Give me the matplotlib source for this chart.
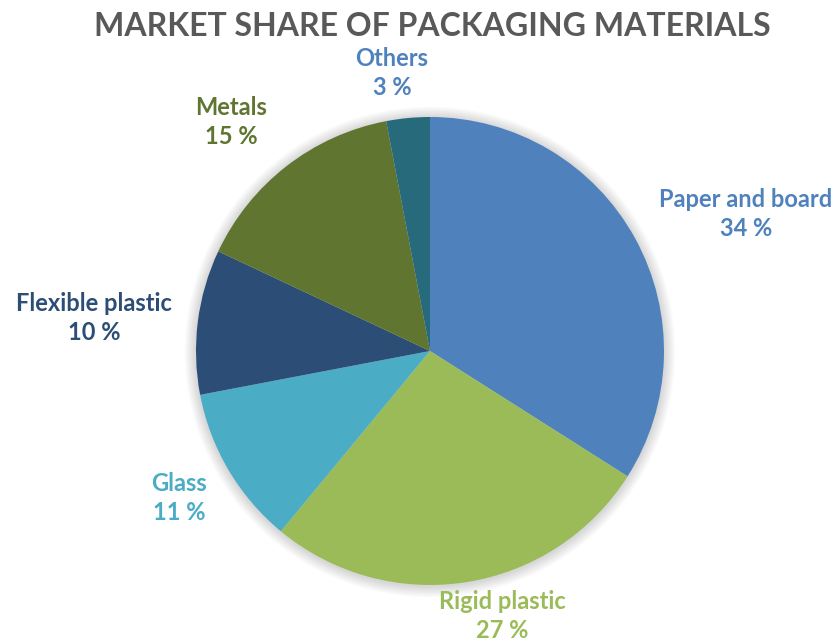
import numpy as np
import matplotlib

matplotlib.use("Agg")
import matplotlib.pyplot as plt
from matplotlib.patches import Circle

plt.rcParams["font.family"] = ["Lato", "DejaVu Sans"]

# market share of packaging materials (%)
materials = ["Paper and board", "Rigid plastic", "Glass", "Flexible plastic", "Metals", "Others"]
shares = [34, 27, 11, 10, 15, 3]
colors = ["#4F81BD", "#9BBB59", "#4BACC6", "#2C4D75", "#5F7530", "#276A7C"]
label_colors = ["#4F81BD", "#9BBB59", "#4BACC6", "#2C4D75", "#5F7530", "#4F81BD"]

# label block centres in pixels from the top-left (layout only)
label_px = [(746, 213), (502, 615), (179, 497), (94, 317), (231, 121), (392, 72)]

W, H, DPI = 840, 643, 100
cx, cy, rpx = 430, 351, 234  # pie centre / radius in pixels (from top-left)

fig = plt.figure(figsize=(W / DPI, H / DPI), dpi=DPI)
ax = fig.add_axes([0, 0, 1, 1])
ax.axis("off")

# soft shadow around the pie
for i in range(8):
    ax.add_patch(Circle((0, -0.004), 1.0 + 0.006 * (i + 1), color="black",
                        alpha=0.018, lw=0, zorder=0))

wedges, _ = ax.pie(shares, colors=colors, startangle=90, counterclock=False,
                   radius=1.0, wedgeprops=dict(linewidth=0, zorder=1))

ax.set_xlim(-cx / rpx, (W - cx) / rpx)
ax.set_ylim(-(H - cy) / rpx, cy / rpx)
ax.set_aspect("auto")

for name, val, col, (px, py) in zip(materials, shares, label_colors, label_px):
    kw = dict(ha="center", va="baseline", color=col, fontsize=17, fontweight="bold")
    fig.text(px / W, 1 - (py - 6) / H, name, **kw)
    fig.text(px / W, 1 - (py + 23) / H, f"{val} %", **kw)

fig.text(432 / W, 1 - 36 / H, "MARKET SHARE OF PACKAGING MATERIALS", ha="center",
         va="baseline", color="#595959", fontsize=23, fontweight="bold")

fig.savefig("out.png", dpi=DPI)
